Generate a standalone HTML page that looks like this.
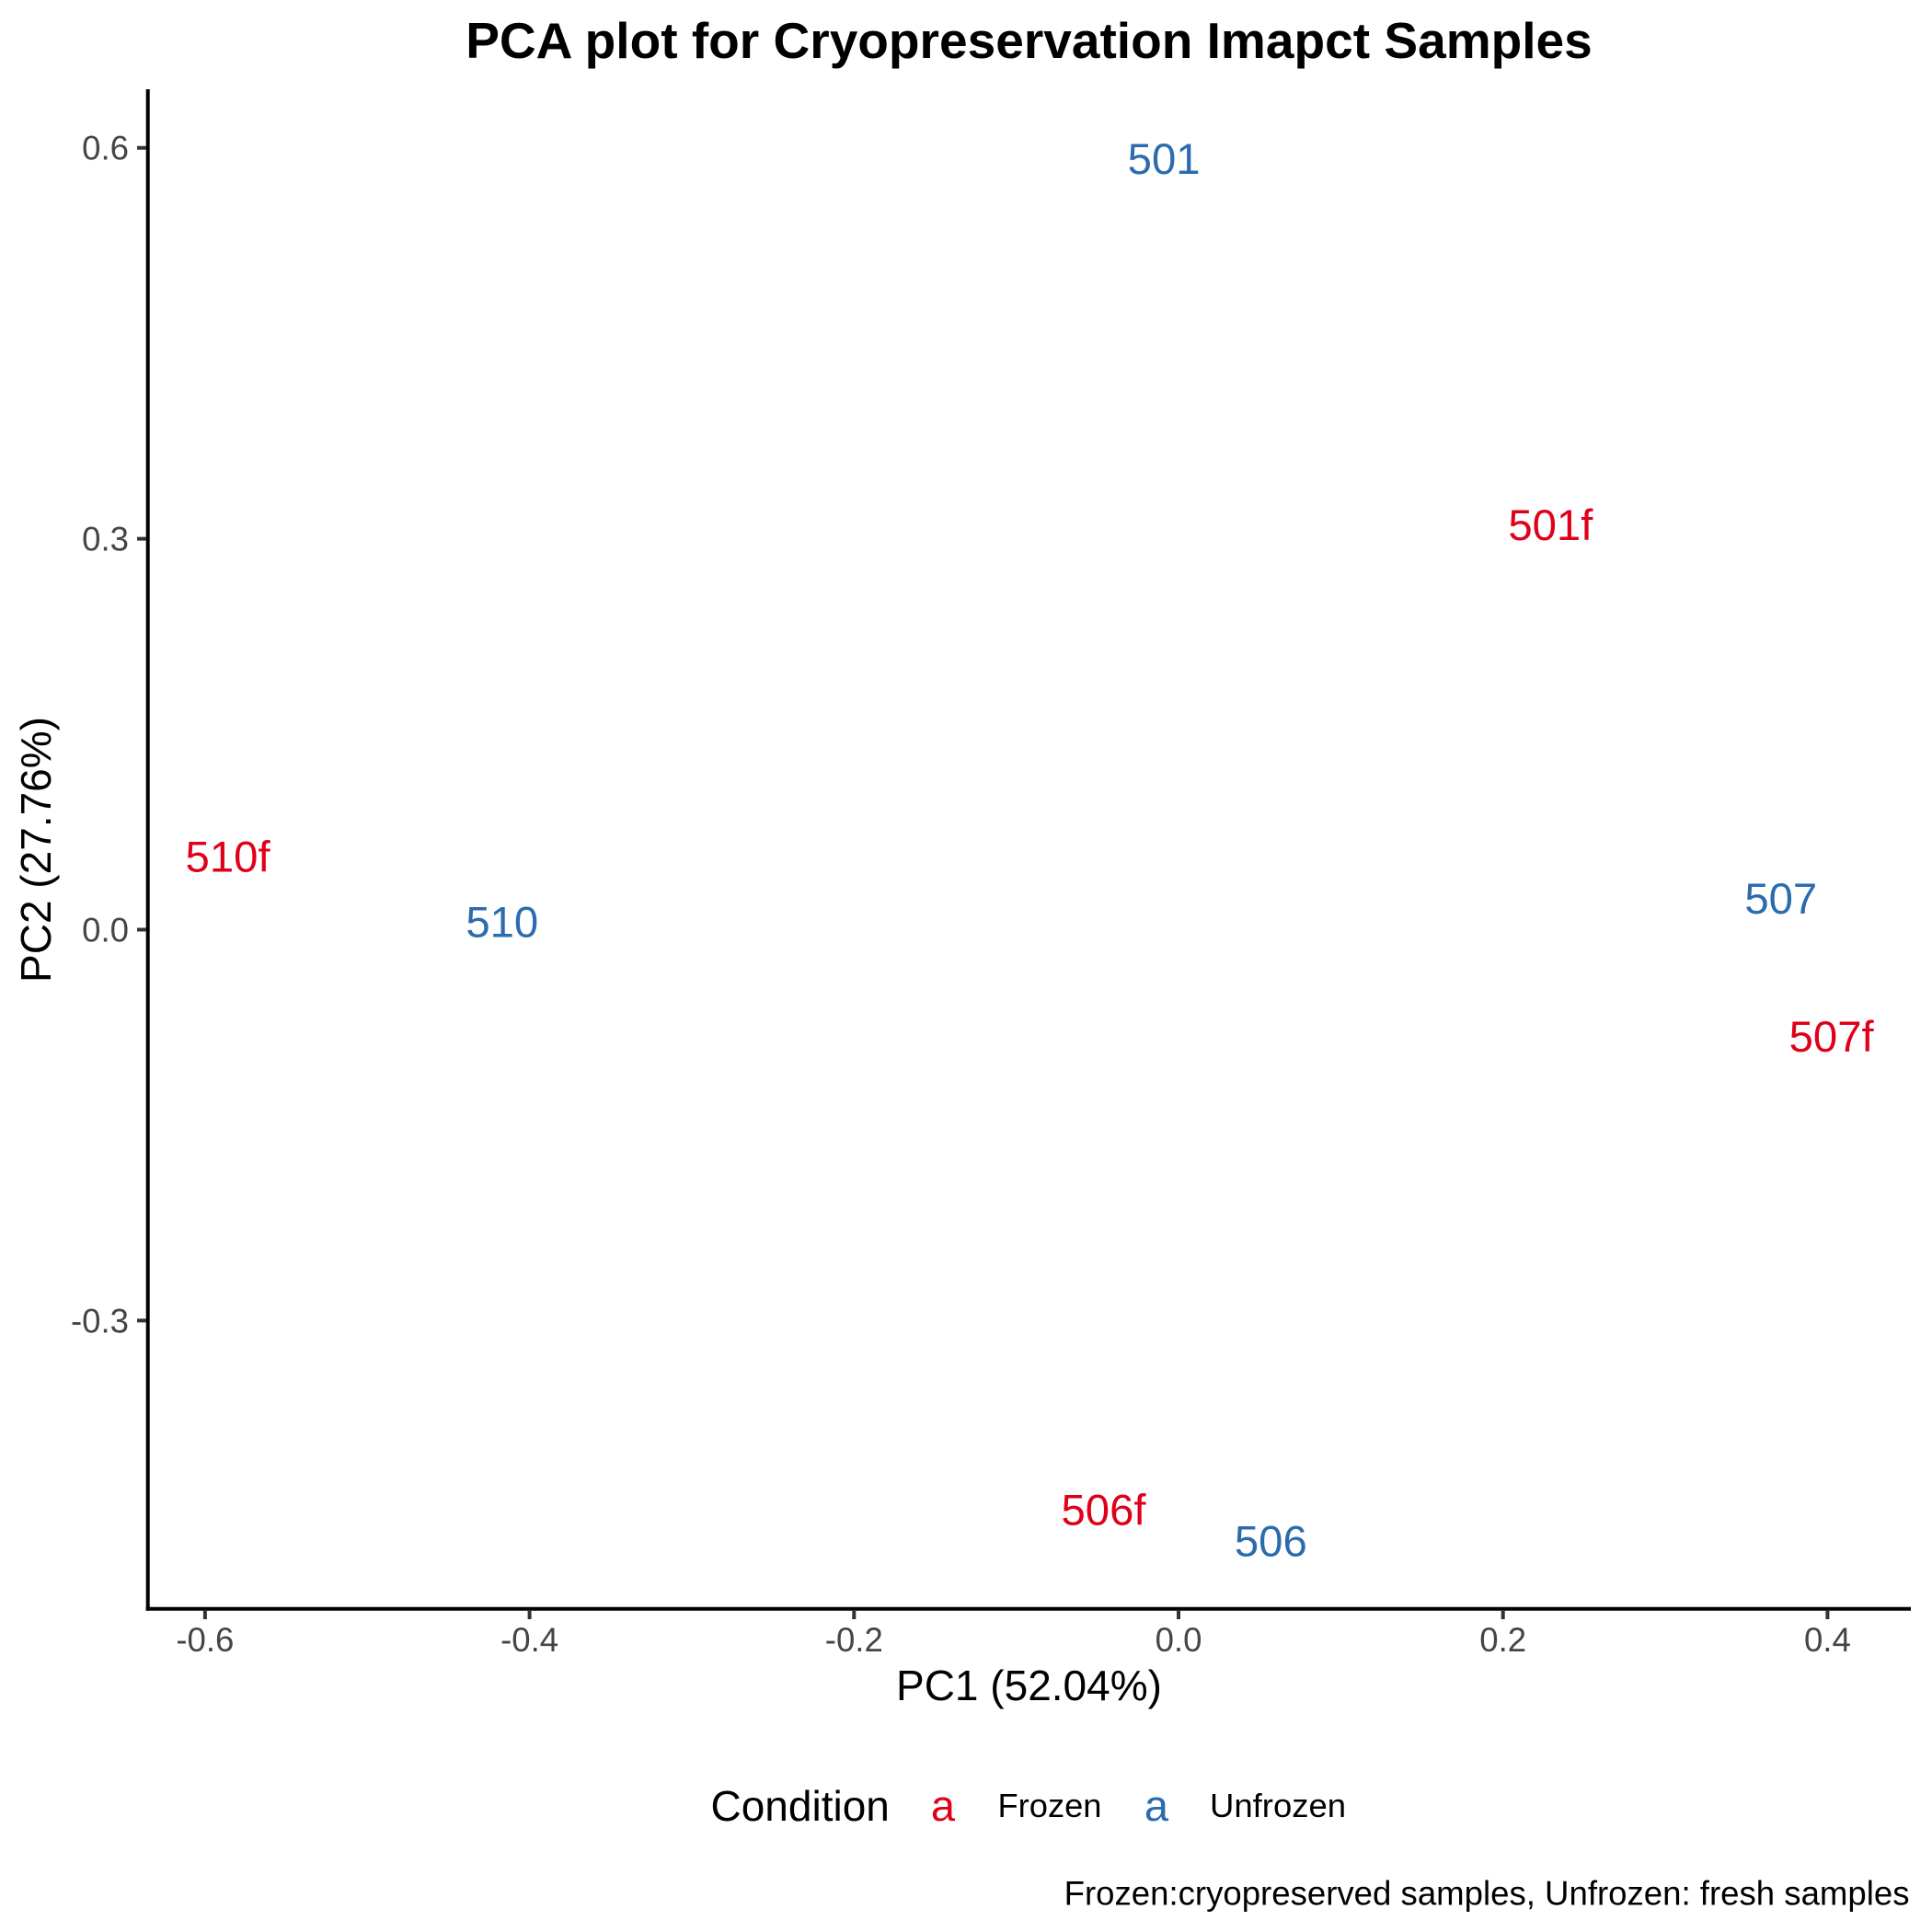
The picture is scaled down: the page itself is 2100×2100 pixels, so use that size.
<!DOCTYPE html>
<html>
<head>
<meta charset="utf-8">
<title>PCA plot for Cryopreservation Imapct Samples</title>
<style>
html,body{margin:0;padding:0;background:#fff;}
svg{display:block;}
text{font-family:"Liberation Sans",Arial,sans-serif;}
</style>
</head>
<body>
<svg id="chart" xmlns="http://www.w3.org/2000/svg" width="2100" height="2100" viewBox="0 0 2100 2100">
  <rect x="0" y="0" width="2100" height="2100" fill="#fff"/>
  <text x="1118.5" y="63" text-anchor="middle" font-size="55.05" font-weight="700" fill="#000">PCA plot for Cryopreservation Imapct Samples</text>
  <line x1="160.7" y1="97" x2="160.7" y2="1750.7" stroke="#000" stroke-width="4"/>
  <line x1="158.7" y1="1748.7" x2="2077" y2="1748.7" stroke="#000" stroke-width="4"/>
  <g id="ticks"></g>
  <g id="points"></g>
  <text x="1118.5" y="1848" text-anchor="middle" font-size="46" fill="#000">PC1 (52.04%)</text>
  <text transform="translate(55,923.5) rotate(-90)" text-anchor="middle" font-size="46" fill="#000">PC2 (27.76%)</text>
  <g>
    <text x="772.5" y="1979" font-size="46" fill="#000">Condition</text>
    <text x="1025" y="1979" text-anchor="middle" font-size="47" fill="#DF0019">a</text>
    <text x="1084.5" y="1975" font-size="36.3" fill="#000">Frozen</text>
    <text x="1257" y="1979" text-anchor="middle" font-size="47" fill="#2B6BAE">a</text>
    <text x="1315" y="1975" font-size="36.5" fill="#000">Unfrozen</text>
  </g>
  <text x="2075.5" y="2070.5" text-anchor="end" font-size="36.6" fill="#000">Frozen:cryopreserved samples, Unfrozen: fresh samples</text>
</svg>
<script>
var sampleNames = ["501", "501f", "510f", "510", "507", "507f", "506f", "506"];
var pc1Values = [-0.009, 0.2293, -0.5860, -0.4169, 0.3713, 0.4024, -0.0462, 0.0569];
var pc2Values = [0.5914, 0.3104, 0.0558, 0.0057, 0.0237, -0.0823, -0.4454, -0.4695];
var conditions = ["Unfrozen", "Frozen", "Frozen", "Unfrozen", "Unfrozen", "Frozen", "Frozen", "Unfrozen"];
var xTicks = [-0.6, -0.4, -0.2, 0, 0.2, 0.4];
var xTickLabels = ["-0.6", "-0.4", "-0.2", "0.0", "0.2", "0.4"];
var yTicks = [-0.3, 0, 0.3, 0.6];
var yTickLabels = ["-0.3", "0.0", "0.3", "0.6"];

var SVG_NS = "http://www.w3.org/2000/svg";
var conditionColor = {Frozen: "#DF0019", Unfrozen: "#2B6BAE"};
function xScale(v) { return 1281 + v * 1763.5; }
function yScale(v) { return 1010.5 - v * 1416.3; }
function make(tag, attrs, parent) {
  var el = document.createElementNS(SVG_NS, tag);
  for (var k in attrs) { el.setAttribute(k, attrs[k]); }
  parent.appendChild(el);
  return el;
}
var tickGroup = document.getElementById("ticks");
xTicks.forEach(function (v, i) {
  var t = make("line", {x1: xScale(v), x2: xScale(v), y1: 1750, y2: 1760, stroke: "#333", "stroke-width": 4}, tickGroup);
  
  
  var l = make("text", {x: xScale(v), y: 1795, "text-anchor": "middle", "font-size": 36.6, fill: "#454545"}, tickGroup);
  l.textContent = xTickLabels[i];
  
  
});
yTicks.forEach(function (v, i) {
  var t = make("line", {x1: 149, x2: 159, y1: yScale(v), y2: yScale(v), stroke: "#333", "stroke-width": 4}, tickGroup);
  
  
  var l = make("text", {x: 140, y: yScale(v) + 13, "text-anchor": "end", "font-size": 36.6, fill: "#454545"}, tickGroup);
  l.textContent = yTickLabels[i];
  
  
});
var pointGroup = document.getElementById("points");
sampleNames.forEach(function (name, i) {
  var l = make("text", {x: xScale(pc1Values[i]), y: yScale(pc2Values[i]) + 16, "text-anchor": "middle", "font-size": 47.3, fill: conditionColor[conditions[i]]}, pointGroup);
  l.textContent = name;
  
  
});
</script>
</body>
</html>
